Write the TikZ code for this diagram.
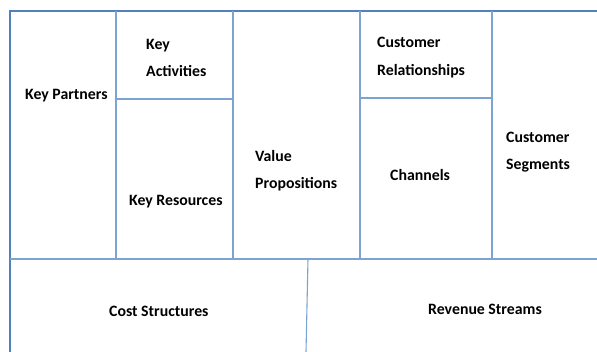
\documentclass[tikz,border=0pt]{standalone}
\usepackage{fontspec}
\setmainfont{Carlito}
\usetikzlibrary{positioning}

\definecolor{gridblue}{RGB}{125,164,208}
\definecolor{edgeblue}{RGB}{79,129,189}

\begin{document}
\begin{tikzpicture}[x=1pt,y=-1pt,
    gridline/.style={draw=gridblue,line width=1.1pt},
    edgeline/.style={draw=edgeblue,line width=1.3pt},
    blocktext/.style={anchor=west,inner sep=0pt,align=left,
        font=\bfseries\fontsize{15.8}{27.5}\selectfont}]
    \fill[white] (0,0) rectangle (597,352);
    \useasboundingbox (0,0) rectangle (597,352);
    % Corners of the canvas
    \coordinate (tl) at (10,11);
    \coordinate (tr) at (597,11);
    \coordinate (bl) at (10,352);
    \coordinate (ml) at (10,259);
    \coordinate (mr) at (597,259);
    % Outer edges
    \draw[edgeline] (bl) -- (tl) -- (tr);
    \draw[gridline] (ml) -- (mr);
    % Column borders of the upper part
    \foreach \x in {116,233,360,492}
        \draw[gridline] (\x,11) -- (\x,259);
    % Split cells
    \draw[gridline] (116,99) -- (233,99);
    \draw[gridline] (360,98) -- (492,98);
    % Border between costs and revenue
    \draw[gridline] (308,259) -- (306,352);
    % Block titles
    \node[blocktext] (partners) at (25,95.5) {Key Partners};
    \node[blocktext] (activities) at (146,58) {Key\\Activities};
    \node[blocktext] (resources) at (129,201.5) {Key Resources};
    \node[blocktext] (value) at (255,170.5) {Value\\Propositions};
    \node[blocktext] (relations) at (377,57.5) {Customer\\Relationships};
    \node[blocktext] (channels) at (390,175.5) {Channels};
    \node[blocktext] (segments) at (506,152) {Customer\\Segments};
    \node[blocktext] (costs) at (109,311.5) {Cost Structures};
    \node[blocktext] (revenue) at (428,309.5) {Revenue Streams};
\end{tikzpicture}
\end{document}
